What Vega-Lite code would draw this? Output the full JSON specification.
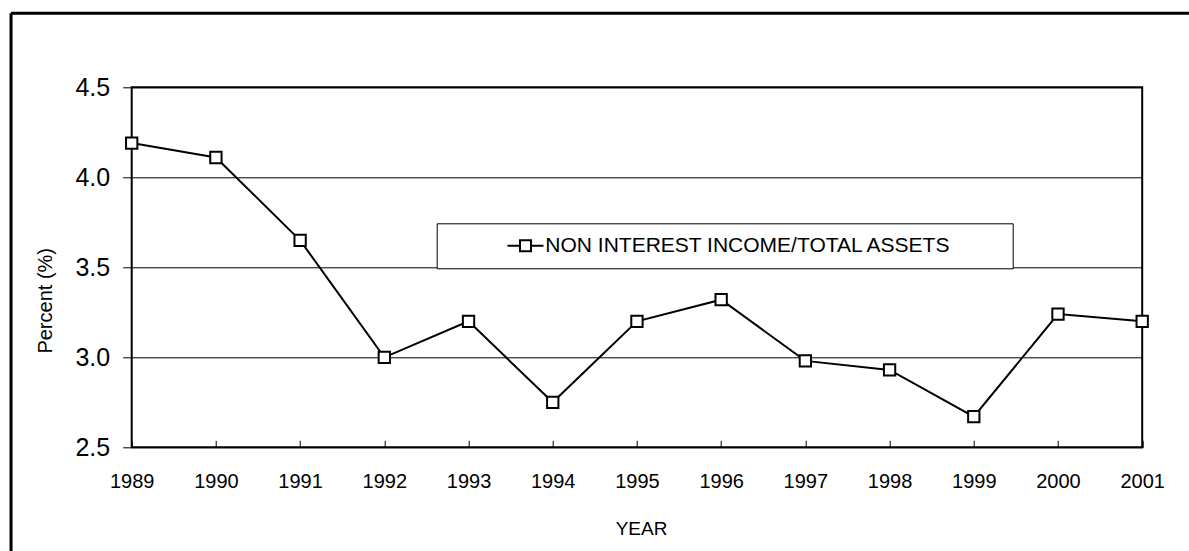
{
  "$schema": "https://vega.github.io/schema/vega-lite/v6.json",
  "width": 1010.5,
  "height": 360,
  "autosize": {"type": "none"},
  "padding": {"left": 131.7, "top": 87.3, "right": 46.8, "bottom": 103.7},
  "background": "white",
  "config": {
    "font": "Liberation Sans",
    "view": {"stroke": "black", "strokeWidth": 2},
    "axis": {
      "labelFont": "Liberation Sans",
      "titleFont": "Liberation Sans",
      "labelColor": "black",
      "titleColor": "black",
      "tickColor": "black",
      "domain": false,
      "titleFontWeight": "normal"
    }
  },
  "data": {
    "values": [
      {"year": 1989, "value": 4.19, "series": "NON INTEREST INCOME/TOTAL ASSETS"},
      {"year": 1990, "value": 4.11, "series": "NON INTEREST INCOME/TOTAL ASSETS"},
      {"year": 1991, "value": 3.65, "series": "NON INTEREST INCOME/TOTAL ASSETS"},
      {"year": 1992, "value": 3.00, "series": "NON INTEREST INCOME/TOTAL ASSETS"},
      {"year": 1993, "value": 3.20, "series": "NON INTEREST INCOME/TOTAL ASSETS"},
      {"year": 1994, "value": 2.75, "series": "NON INTEREST INCOME/TOTAL ASSETS"},
      {"year": 1995, "value": 3.20, "series": "NON INTEREST INCOME/TOTAL ASSETS"},
      {"year": 1996, "value": 3.32, "series": "NON INTEREST INCOME/TOTAL ASSETS"},
      {"year": 1997, "value": 2.98, "series": "NON INTEREST INCOME/TOTAL ASSETS"},
      {"year": 1998, "value": 2.93, "series": "NON INTEREST INCOME/TOTAL ASSETS"},
      {"year": 1999, "value": 2.67, "series": "NON INTEREST INCOME/TOTAL ASSETS"},
      {"year": 2000, "value": 3.24, "series": "NON INTEREST INCOME/TOTAL ASSETS"},
      {"year": 2001, "value": 3.20, "series": "NON INTEREST INCOME/TOTAL ASSETS"}
    ]
  },
  "layer": [
    {
      "mark": {"type": "line", "strokeWidth": 2},
      "encoding": {
        "x": {
          "field": "year",
          "type": "quantitative",
          "scale": {"domain": [1989, 2001], "nice": false, "zero": false},
          "axis": {
            "values": [1989, 1990, 1991, 1992, 1993, 1994, 1995, 1996, 1997, 1998, 1999, 2000, 2001],
            "format": "d",
            "labelFontSize": 20,
            "labelAngle": 0,
            "labelFlush": false,
            "labelOverlap": false,
            "labelBaseline": "top",
            "tickSize": -7,
            "tickWidth": 1,
            "labelPadding": 30.7,
            "grid": false,
            "title": "YEAR",
            "titleFontSize": 19,
            "titleX": 509.3,
            "titleY": 86.7,
            "titleAlign": "center",
            "titleBaseline": "alphabetic"
          }
        },
        "y": {
          "field": "value",
          "type": "quantitative",
          "scale": {"domain": [2.5, 4.5], "nice": false, "zero": false},
          "axis": {
            "values": [2.5, 3, 3.5, 4, 4.5],
            "format": ".1f",
            "labelFontSize": 25,
            "tickSize": 9,
            "tickWidth": 1,
            "labelPadding": 13,
            "grid": true,
            "gridColor": "black",
            "gridWidth": 1,
            "gridOpacity": 1,
            "title": "Percent (%)",
            "titleFontSize": 20,
            "titleAngle": -90,
            "titleX": -86.7,
            "titleY": 213,
            "titleAlign": "center",
            "titleBaseline": "middle"
          }
        },
        "color": {
          "field": "series",
          "type": "nominal",
          "scale": {"range": ["black"]},
          "legend": {
            "title": " ",
            "titleOrient": "right",
            "titlePadding": 49,
            "titleFontSize": 20,
            "orient": "none",
            "legendX": 305,
            "legendY": 136,
            "padding": 12,
            "strokeColor": "black",
            "fillColor": "white",
            "symbolType": "M-3,0H-0.92M0.92,0H3M-0.92,-0.92H0.92V0.92H-0.92Z",
            "symbolSize": 144,
            "symbolStrokeWidth": 2,
            "symbolFillColor": "white",
            "symbolStrokeColor": "black",
            "symbolOffset": 66.3,
            "labelOffset": 9.3,
            "labelFontSize": 21,
            "labelFont": "Liberation Sans",
            "labelColor": "black",
            "labelLimit": 1000,
            "encode": {
              "symbols": {
                "update": {
                  "fill": {"value": "white"},
                  "stroke": {"value": "black"},
                  "strokeWidth": {"value": 2}
                }
              }
            }
          }
        }
      }
    },
    {
      "mark": {"type": "point", "shape": "square", "size": 128, "filled": true, "fill": "white", "stroke": "black", "strokeWidth": 2, "opacity": 1},
      "encoding": {
        "x": {"field": "year", "type": "quantitative", "scale": {"domain": [1989, 2001], "nice": false, "zero": false}},
        "y": {"field": "value", "type": "quantitative", "scale": {"domain": [2.5, 4.5], "nice": false, "zero": false}}
      }
    },
    {
      "data": {"values": [{}]},
      "mark": {"type": "rule", "color": "black", "strokeWidth": 3, "clip": false},
      "encoding": {
        "x": {"datum": 1987.567, "type": "quantitative", "scale": {"domain": [1989, 2001], "nice": false, "zero": false}},
        "y": {"datum": 4.911, "type": "quantitative", "scale": {"domain": [2.5, 4.5], "nice": false, "zero": false}},
        "y2": {"datum": 1.5}
      }
    },
    {
      "data": {"values": [{}]},
      "mark": {"type": "rule", "color": "black", "strokeWidth": 3, "clip": false},
      "encoding": {
        "x": {"datum": 1987.567, "type": "quantitative", "scale": {"domain": [1989, 2001], "nice": false, "zero": false}},
        "x2": {"datum": 2002},
        "y": {"datum": 4.911, "type": "quantitative", "scale": {"domain": [2.5, 4.5], "nice": false, "zero": false}}
      }
    }
  ]
}
